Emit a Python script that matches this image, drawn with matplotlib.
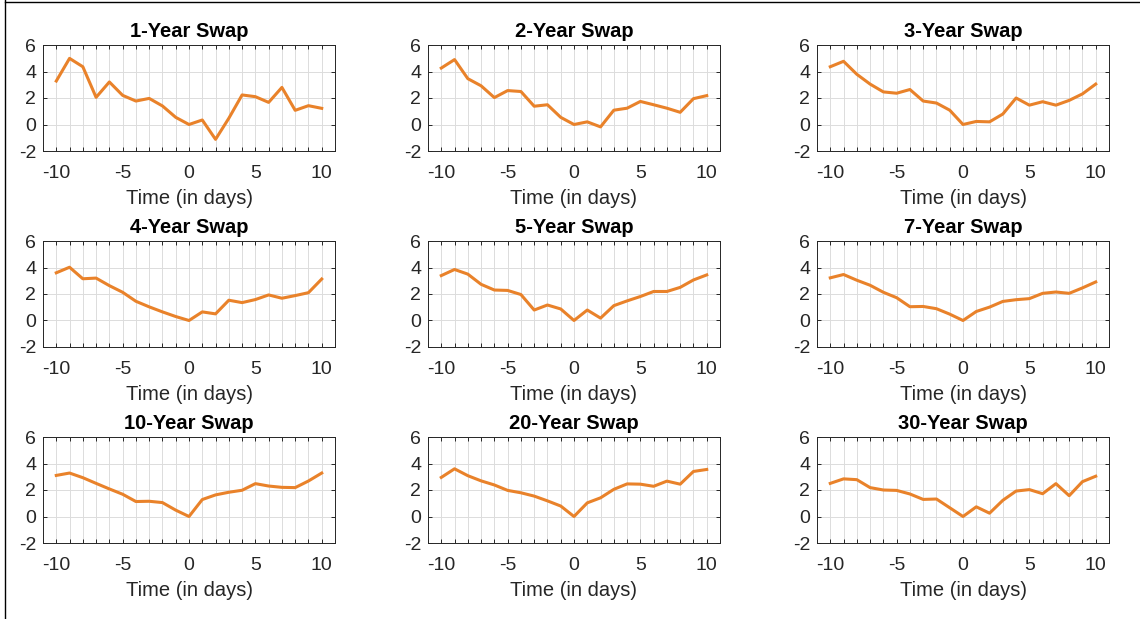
import numpy as np
import matplotlib.pyplot as plt
from matplotlib.lines import Line2D
from matplotlib.ticker import MultipleLocator

# event-study style swap responses, days -10..10
days = np.arange(-10, 11)

titles = ["1-Year Swap", "2-Year Swap", "3-Year Swap",
          "4-Year Swap", "5-Year Swap", "7-Year Swap",
          "10-Year Swap", "20-Year Swap", "30-Year Swap"]

swap_1y = [3.28, 4.99, 4.36, 2.05, 3.21, 2.2, 1.77, 1.97, 1.4, 0.54, 0.0,
           0.34, -1.12, 0.47, 2.23, 2.1, 1.67, 2.8, 1.07, 1.42, 1.22]
swap_2y = [4.26, 4.9, 3.46, 2.92, 2.03, 2.56, 2.49, 1.38, 1.49, 0.54, 0.0,
           0.2, -0.18, 1.08, 1.23, 1.74, 1.49, 1.23, 0.92, 1.95, 2.18]
swap_3y = [4.36, 4.77, 3.79, 3.05, 2.46, 2.36, 2.64, 1.77, 1.62, 1.08, 0.0,
           0.23, 0.2, 0.79, 2.0, 1.46, 1.72, 1.46, 1.82, 2.31, 3.05]
swap_4y = [3.6, 4.02, 3.15, 3.2, 2.63, 2.13, 1.45, 1.03, 0.65, 0.3, 0.0,
           0.65, 0.5, 1.53, 1.35, 1.58, 1.93, 1.68, 1.88, 2.1, 3.13]
swap_5y = [3.39, 3.85, 3.5, 2.73, 2.3, 2.27, 1.96, 0.79, 1.17, 0.87, 0.0,
           0.79, 0.18, 1.12, 1.48, 1.81, 2.19, 2.19, 2.5, 3.06, 3.44]
swap_7y = [3.22, 3.47, 3.04, 2.66, 2.13, 1.72, 1.04, 1.06, 0.89, 0.48, 0.0,
           0.68, 1.01, 1.44, 1.57, 1.65, 2.05, 2.15, 2.05, 2.46, 2.91]
swap_10y = [3.1, 3.28, 2.93, 2.5, 2.08, 1.68, 1.13, 1.15, 1.05, 0.48, 0.0,
            1.28, 1.63, 1.83, 1.98, 2.48, 2.3, 2.2, 2.18, 2.68, 3.28]
swap_20y = [2.95, 3.6, 3.08, 2.69, 2.38, 1.97, 1.79, 1.54, 1.18, 0.79, 0.0,
            1.03, 1.41, 2.05, 2.46, 2.44, 2.28, 2.67, 2.44, 3.4, 3.55]
swap_30y = [2.5, 2.84, 2.78, 2.18, 2.0, 1.97, 1.7, 1.29, 1.32, 0.66, 0.0,
            0.73, 0.25, 1.22, 1.92, 2.03, 1.72, 2.48, 1.57, 2.63, 3.04]

series = [swap_1y, swap_2y, swap_3y, swap_4y, swap_5y, swap_7y,
          swap_10y, swap_20y, swap_30y]

LINE_COL = "#E9822A"
AX_COL = "#262626"

plt.rcParams["font.family"] = ["Liberation Sans", "DejaVu Sans"]
plt.rcParams["axes.unicode_minus"] = False

fig = plt.figure(figsize=(11.4, 6.19), dpi=100)

col_left = [43, 428, 817]
row_top = [45, 241, 437]
W, H = 1140, 619
aw, ah = 292, 106

for i, (ttl, vals) in enumerate(zip(titles, series)):
    r, c = divmod(i, 3)
    ax = fig.add_axes([col_left[c] / W, 1 - (row_top[r] + ah) / H, aw / W, ah / H])
    ax.plot(days, vals, color=LINE_COL, lw=2.2)
    ax.set_xlim(-11, 11)
    ax.set_ylim(-2, 6)
    ax.xaxis.set_major_locator(MultipleLocator(5))
    ax.xaxis.set_minor_locator(MultipleLocator(1))
    ax.yaxis.set_major_locator(MultipleLocator(2))
    ax.grid(True, which="both", axis="x", color="#dcdcdc", lw=0.7)
    ax.grid(True, which="major", axis="y", color="#dcdcdc", lw=0.7)
    ax.set_axisbelow(True)
    ax.tick_params(which="both", direction="in", top=True, right=True,
                   length=3, width=0.7, color=AX_COL, labelsize=14,
                   labelcolor=AX_COL)
    ax.tick_params(axis="x", which="both", pad=10)
    ax.tick_params(axis="y", which="both", pad=5)
    for sp in ax.spines.values():
        sp.set_color(AX_COL)
        sp.set_linewidth(0.7)
    ax.set_title(ttl, fontsize=14.5, fontweight="bold", pad=6)
    ax.set_xlabel("Time (in days)", fontsize=14.5, color=AX_COL, labelpad=5)

# frame lines from the original screenshot edge
fig.add_artist(Line2D([5 / W, 5 / W], [0, 1], color="black", lw=1))
fig.add_artist(Line2D([5 / W, 1], [1 - 1.5 / H, 1 - 1.5 / H], color="black", lw=1))

fig.savefig("out.png", dpi=100, facecolor="white")
